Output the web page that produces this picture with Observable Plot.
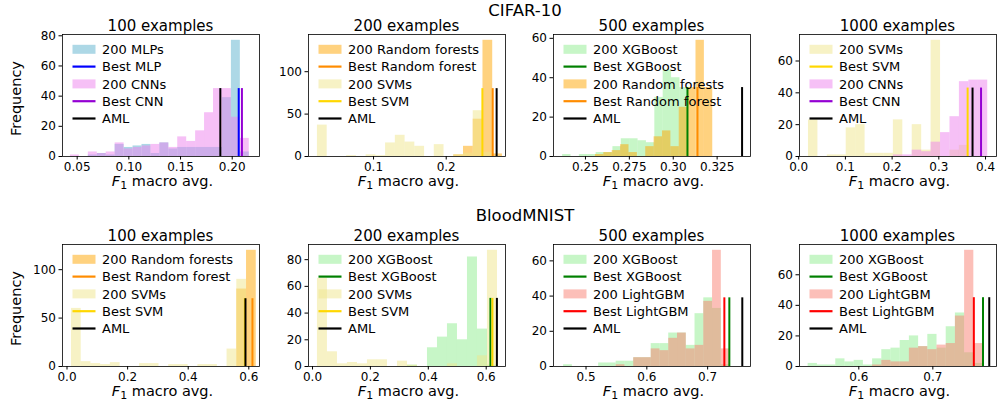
<!DOCTYPE html>
<html><head><meta charset="utf-8">
<script src="https://cdn.jsdelivr.net/npm/d3@7"></script>
<script src="https://cdn.jsdelivr.net/npm/@observablehq/plot@0.6"></script>
<style>
html,body{margin:0;padding:0;background:#fff;}
#root{position:relative;width:997px;height:410px;overflow:hidden;font-family:"DejaVu Sans";}
</style></head><body><div id="root"></div>
<script>
// ---------------- DATA ----------------
// CIFAR-10, 100 examples
const c100_xdomain = [0.0358, 0.2264];
const c100_xticks = [0.05, 0.10, 0.15, 0.20];
const c100_xlabels = ["0.05", "0.10", "0.15", "0.20"];
const c100_yticks = [0, 20, 40, 60, 80];
const c100_mlp_range = [0.0435, 0.2165];
const c100_mlp = [0, 0, 1, 2, 1, 8, 6, 7, 8, 2, 9, 5, 6, 6, 6, 6, 6, 39, 77, 3];
const c100_cnn_range = [0.0435, 0.2165];
const c100_cnn = [1, 0, 3, 2, 3, 9, 5, 6, 7, 8, 9, 6, 13, 10, 17, 29, 45, 45, 26, 12];
const c100_best = [0.2063, 0.2094];
const c100_aml = 0.1885;
const c100_lineTop = 45;

// CIFAR-10, 200 examples
const c200_xdomain = [0.0105, 0.2816];
const c200_xticks = [0.1, 0.2];
const c200_xlabels = ["0.1", "0.2"];
const c200_yticks = [0, 50, 100];
const c200_rf_range = [0.2104, 0.2774];
const c200_rf = [2, 12, 44, 137, 3];
const c200_svm_range = [0.0228, 0.2640];
const c200_svm = [37, 0, 0, 1, 0, 2, 1, 16, 25, 17, 12, 0, 14, 0, 2, 4, 54, 5];
const c200_best = [0.2640, 0.2498];
const c200_aml = 0.2694;
const c200_lineTop = 80;

// CIFAR-10, 500 examples
const c500_xdomain = [0.2318, 0.3440];
const c500_xticks = [0.25, 0.275, 0.30, 0.325];
const c500_xlabels = ["0.25", "0.275", "0.30", "0.325"];
const c500_yticks = [0, 20, 40, 60];
const c500_xgb_range = [0.2370, 0.3086];
const c500_xgb = [1, 0, 1, 1, 2, 2, 5, 9, 9, 8, 7, 30, 44, 40, 35];
const c500_rf_range = [0.2557, 0.3225];
const c500_rf = [1, 2, 3, 6, 2, 0, 5, 10, 13, 5, 25, 35, 59, 35];
const c500_best = [0.3081, 0.3138];
const c500_aml = 0.3392;
const c500_lineTop = 35;

// CIFAR-10, 1000 examples
const c1000_xdomain = [0.0017, 0.4235];
const c1000_xticks = [0.0, 0.1, 0.2, 0.3, 0.4];
const c1000_xlabels = ["0.0", "0.1", "0.2", "0.3", "0.4"];
const c1000_yticks = [0, 20, 40, 60];
const c1000_svm_range = [0.0209, 0.3643];
const c1000_svm = [23, 0, 1, 1, 18, 20, 2, 2, 2, 23, 0, 20, 4, 73, 0, 4, 7];
const c1000_cnn_range = [0.2027, 0.4047];
const c1000_cnn = [1, 1, 4, 3, 9, 15, 25, 47, 48, 48];
const c1000_best = [0.3617, 0.3904];
const c1000_aml = 0.3722;
const c1000_lineTop = 43;

// BloodMNIST, 100 examples
const b100_xdomain = [-0.0149, 0.6353];
const b100_xticks = [0.0, 0.2, 0.4, 0.6];
const b100_xlabels = ["0.0", "0.2", "0.4", "0.6"];
const b100_yticks = [0, 50, 100];
const b100_rf_range = [0.5604, 0.6246];
const b100_rf = [80, 120];
const b100_svm_range = [0.0147, 0.6246];
const b100_svm = [60, 5, 3, 2, 4, 0, 0, 3, 3, 0, 2, 2, 0, 2, 2, 0, 18, 90, 0];
const b100_best = [0.6120, 0.5870];
const b100_aml = 0.5890;
const b100_lineTop = 70;

// BloodMNIST, 200 examples
const b200_xdomain = [-0.0139, 0.6667];
const b200_xticks = [0.0, 0.2, 0.4, 0.6];
const b200_xlabels = ["0.0", "0.2", "0.4", "0.6"];
const b200_yticks = [0, 20, 40, 60, 80];
const b200_xgb_range = [0.3280, 0.6390];
const b200_xgb = [1, 0, 14, 22, 32, 20, 82, 28, 1];
const b200_svm_range = [0.0170, 0.6390];
const b200_svm = [66, 11, 2, 3, 2, 5, 5, 0, 4, 1, 0, 0, 0, 2, 0, 0, 8, 87];
const b200_best = [0.6146, 0.6215];
const b200_aml = 0.6370;
const b200_lineTop = 51;

// BloodMNIST, 500 examples
const b500_xdomain = [0.4465, 0.7705];
const b500_xticks = [0.5, 0.6, 0.7];
const b500_xlabels = ["0.5", "0.6", "0.7"];
const b500_yticks = [0, 20, 40, 60];
const b500_xgb_range = [0.4631, 0.7369];
const b500_xgb = [1, 0, 0, 0, 2, 2, 3, 3, 5, 5, 13, 13, 19, 19, 12, 30, 39, 33, 1];
const b500_lgbm_range = [0.5496, 0.7369];
const b500_lgbm = [1, 0, 5, 5, 10, 9, 16, 19, 10, 12, 37, 66, 10];
const b500_best = [0.7357, 0.7275];
const b500_aml = 0.7570;
const b500_lineTop = 39;

// BloodMNIST, 1000 examples
const b1000_xdomain = [0.5199, 0.7860];
const b1000_xticks = [0.6, 0.7];
const b1000_xlabels = ["0.6", "0.7"];
const b1000_yticks = [0, 20, 40, 60];
const b1000_xgb_range = [0.5316, 0.7678];
const b1000_xgb = [2, 1, 1, 5, 3, 4, 1, 5, 11, 12, 17, 20, 13, 21, 12, 26, 35, 9, 2];
const b1000_lgbm_range = [0.6186, 0.7678];
const b1000_lgbm = [1, 4, 3, 3, 12, 13, 11, 14, 15, 33, 76, 15];
const b1000_best = [0.7678, 0.7554];
const b1000_aml = 0.7762;
const b1000_lineTop = 45;

// ---------------- STYLES ----------------
const COL = {
  mlp: ["#add8e6", 1], cnn: ["violet", 0.5], rf: ["orange", 0.5], svm: ["khaki", 0.5],
  xgb: ["lightgreen", 0.5], lgbm: ["salmon", 0.5]
};
const LINE = { mlp: "blue", cnn: "darkviolet", rf: "darkorange", svm: "gold", xgb: "green", lgbm: "red" };

function S(key, name, range, counts) { return { key, name, range, counts }; }
function L(key, name, x) { return { key, name, x }; }

const panels = [
  { left: 62, top: 34, title: "100 examples", xdomain: c100_xdomain, xticks: c100_xticks, xlabels: c100_xlabels, yticks: c100_yticks,
    series: [S("mlp", "200 MLPs", c100_mlp_range, c100_mlp), S("cnn", "200 CNNs", c100_cnn_range, c100_cnn)],
    lines: [L("mlp", "Best MLP", c100_best[0]), L("cnn", "Best CNN", c100_best[1])], aml: c100_aml, top2: c100_lineTop },
  { left: 308, top: 34, title: "200 examples", xdomain: c200_xdomain, xticks: c200_xticks, xlabels: c200_xlabels, yticks: c200_yticks,
    series: [S("rf", "200 Random forests", c200_rf_range, c200_rf), S("svm", "200 SVMs", c200_svm_range, c200_svm)],
    lines: [L("rf", "Best Random forest", c200_best[0]), L("svm", "Best SVM", c200_best[1])], aml: c200_aml, top2: c200_lineTop },
  { left: 553, top: 34, title: "500 examples", xdomain: c500_xdomain, xticks: c500_xticks, xlabels: c500_xlabels, yticks: c500_yticks,
    series: [S("xgb", "200 XGBoost", c500_xgb_range, c500_xgb), S("rf", "200 Random forests", c500_rf_range, c500_rf)],
    lines: [L("xgb", "Best XGBoost", c500_best[0]), L("rf", "Best Random forest", c500_best[1])], aml: c500_aml, top2: c500_lineTop },
  { left: 799, top: 34, title: "1000 examples", xdomain: c1000_xdomain, xticks: c1000_xticks, xlabels: c1000_xlabels, yticks: c1000_yticks,
    series: [S("svm", "200 SVMs", c1000_svm_range, c1000_svm), S("cnn", "200 CNNs", c1000_cnn_range, c1000_cnn)],
    lines: [L("svm", "Best SVM", c1000_best[0]), L("cnn", "Best CNN", c1000_best[1])], aml: c1000_aml, top2: c1000_lineTop },
  { left: 62, top: 244, title: "100 examples", xdomain: b100_xdomain, xticks: b100_xticks, xlabels: b100_xlabels, yticks: b100_yticks,
    series: [S("rf", "200 Random forests", b100_rf_range, b100_rf), S("svm", "200 SVMs", b100_svm_range, b100_svm)],
    lines: [L("rf", "Best Random forest", b100_best[0]), L("svm", "Best SVM", b100_best[1])], aml: b100_aml, top2: b100_lineTop },
  { left: 308, top: 244, title: "200 examples", xdomain: b200_xdomain, xticks: b200_xticks, xlabels: b200_xlabels, yticks: b200_yticks,
    series: [S("xgb", "200 XGBoost", b200_xgb_range, b200_xgb), S("svm", "200 SVMs", b200_svm_range, b200_svm)],
    lines: [L("xgb", "Best XGBoost", b200_best[0]), L("svm", "Best SVM", b200_best[1])], aml: b200_aml, top2: b200_lineTop },
  { left: 553, top: 244, title: "500 examples", xdomain: b500_xdomain, xticks: b500_xticks, xlabels: b500_xlabels, yticks: b500_yticks,
    series: [S("xgb", "200 XGBoost", b500_xgb_range, b500_xgb), S("lgbm", "200 LightGBM", b500_lgbm_range, b500_lgbm)],
    lines: [L("xgb", "Best XGBoost", b500_best[0]), L("lgbm", "Best LightGBM", b500_best[1])], aml: b500_aml, top2: b500_lineTop },
  { left: 799, top: 244, title: "1000 examples", xdomain: b1000_xdomain, xticks: b1000_xticks, xlabels: b1000_xlabels, yticks: b1000_yticks,
    series: [S("xgb", "200 XGBoost", b1000_xgb_range, b1000_xgb), S("lgbm", "200 LightGBM", b1000_lgbm_range, b1000_lgbm)],
    lines: [L("xgb", "Best XGBoost", b1000_best[0]), L("lgbm", "Best LightGBM", b1000_best[1])], aml: b1000_aml, top2: b1000_lineTop }
];

// ---------------- DRAW ----------------
const W = 197, H = 122, ML = 45, MR = 3, MT = 3, MB = 24;
const root = document.getElementById("root");

panels.forEach(p => {
  const ymax = d3.max(p.series.flatMap(s => s.counts)) * 1.05;
  const marks = [];
  p.series.forEach(s => {
    const n = s.counts.length, w = (s.range[1] - s.range[0]) / n;
    const bins = s.counts.map((c, k) => ({ x1: s.range[0] + k * w, x2: s.range[0] + (k + 1) * w, y: c })).filter(d => d.y > 0);
    marks.push(Plot.rectY(bins, { x1: "x1", x2: "x2", y: "y", fill: COL[s.key][0], fillOpacity: COL[s.key][1], inset: 0 }));
  });
  p.lines.forEach(l => {
    marks.push(Plot.ruleX([{ x: l.x, h: p.top2 }], { x: "x", y1: 0, y2: "h", stroke: LINE[l.key], strokeWidth: 2 }));
  });
  marks.push(Plot.ruleX([{ x: p.aml, h: p.top2 }], { x: "x", y1: 0, y2: "h", stroke: "black", strokeWidth: 2 }));
  marks.push(Plot.frame({ stroke: "black", strokeWidth: 0.8 }));
  const svg = Plot.plot({
    width: ML + W + MR, height: MT + H + MB,
    marginLeft: ML, marginRight: MR, marginTop: MT, marginBottom: MB,
    x: { domain: p.xdomain, ticks: p.xticks, tickFormat: d => p.xlabels[p.xticks.indexOf(d)], tickSize: 3.5, tickPadding: 2, label: null },
    y: { domain: [0, ymax], ticks: p.yticks, tickFormat: d => String(d), tickSize: 3.5, tickPadding: 3, label: null },
    style: { fontFamily: "DejaVu Sans", fontSize: "12px", color: "black", background: "transparent", overflow: "visible" },
    marks
  });
  svg.style.position = "absolute";
  svg.style.left = (p.left - ML) + "px";
  svg.style.top = (p.top - MT) + "px";
  root.appendChild(svg);
});

// overlay text and legends
const ov = d3.select(root).append("svg").attr("width", 997).attr("height", 410)
  .style("position", "absolute").style("left", 0).style("top", 0)
  .style("font-family", "DejaVu Sans").style("overflow", "visible");

ov.append("text").attr("x", 525).attr("y", 15.5).attr("text-anchor", "middle").attr("font-size", 16.5).text("CIFAR-10");
ov.append("text").attr("x", 525).attr("y", 220.5).attr("text-anchor", "middle").attr("font-size", 16.5).text("BloodMNIST");

panels.forEach((p, i) => {
  const cx = p.left + W / 2;
  ov.append("text").attr("x", cx).attr("y", p.top - 3).attr("text-anchor", "middle").attr("font-size", 15).text(p.title);
  const t = ov.append("text").attr("x", cx + 2).attr("y", p.top + 152).attr("text-anchor", "middle").attr("font-size", 14.5);
  t.append("tspan").attr("font-style", "italic").text("F");
  t.append("tspan").attr("dy", 3).attr("font-size", 11).text("1");
  t.append("tspan").attr("dy", -3).text(" macro avg.");
  if (i % 4 === 0) {
    ov.append("text").attr("transform", `translate(20.7,${p.top + H / 2 + 3.5}) rotate(-90)`)
      .attr("text-anchor", "middle").attr("font-size", 14.5).text("Frequency");
  }
  const entries = [
    { type: "patch", key: p.series[0].key, name: p.series[0].name },
    { type: "line", color: LINE[p.lines[0].key], name: p.lines[0].name },
    { type: "patch", key: p.series[1].key, name: p.series[1].name },
    { type: "line", color: LINE[p.lines[1].key], name: p.lines[1].name },
    { type: "line", color: "black", name: "AML" }
  ];
  entries.forEach((e, j) => {
    const cy = p.top + 15.3 + 17.3 * j;
    const x0 = p.left + 10.5;
    if (e.type === "patch") {
      ov.append("rect").attr("x", x0).attr("y", cy - 4.5).attr("width", 23).attr("height", 9)
        .attr("fill", COL[e.key][0]).attr("fill-opacity", COL[e.key][1]);
    } else {
      ov.append("line").attr("x1", x0).attr("x2", x0 + 23).attr("y1", cy).attr("y2", cy)
        .attr("stroke", e.color).attr("stroke-width", 2.2);
    }
    ov.append("text").attr("x", p.left + 40).attr("y", cy + 4.7).attr("font-size", 13).text(e.name);
  });
});
</script></body></html>
